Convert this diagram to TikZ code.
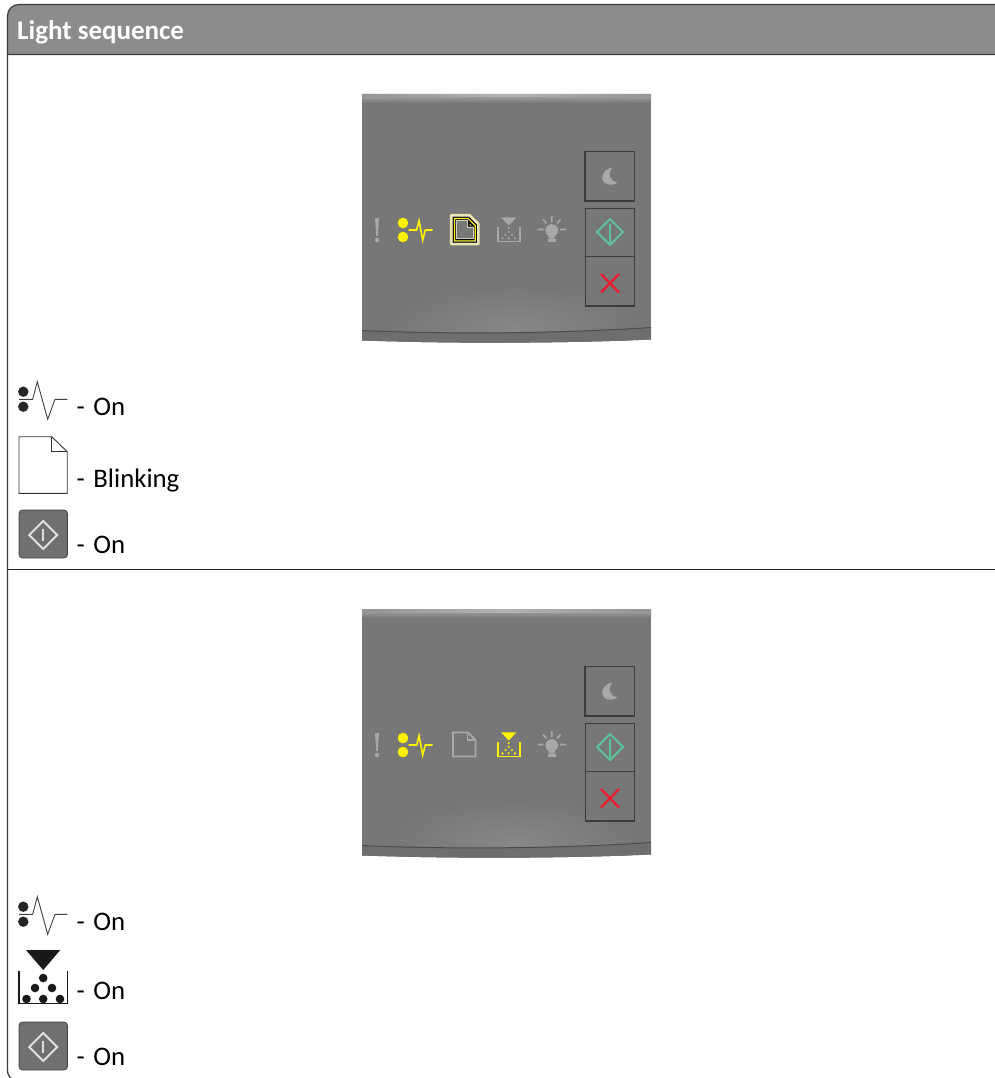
\documentclass[tikz,border=0pt]{standalone}
\usepackage{fontspec}
\setmainfont{Carlito}
\definecolor{framec}{HTML}{3A3A3A}
\definecolor{headc}{HTML}{8C8C8C}
\definecolor{body}{HTML}{777777}
\definecolor{ledoff}{HTML}{A8A8A8}
\definecolor{ledon}{HTML}{FFF200}
\definecolor{startc}{HTML}{5CC29B}
\definecolor{stopc}{HTML}{EE1C2E}
\definecolor{btnc}{HTML}{707070}
\definecolor{boxc}{HTML}{3C3C3C}
\definecolor{glowc}{HTML}{E9E6B4}
\tikzset{
  x=1pt,y=-1pt,
  legendtext/.style={anchor=base west,inner sep=0pt,font=\fontsize{26.8}{27}\selectfont,text=black},
  panelbox/.style={draw=boxc,line width=1.3},
  legendbtn/.style={fill=btnc,draw=black!75,line width=.7,rounded corners=3.5},
}
\newcommand{\ledbang}[1]{\fill[#1] (375,218) -- (379,218) -- (377.8,236) -- (376.2,236) -- cycle;
  \fill[#1] (377,240) circle (2.2);}
\newcommand{\ledpulse}[1]{\fill[#1] (403,223) circle (5.3); \fill[#1] (403,237) circle (5.3);
  \draw[#1,line width=1.6,line join=miter] (408.7,230) -- (416.7,230) -- (419,220.7) -- (422.7,240) -- (425.3,230) -- (432.7,230);}
\newcommand{\ledpaper}[1]{\draw[#1,line width=1.9,line join=round] (453,217.5) -- (468,217.5) -- (475.5,225) -- (475.5,241.5) -- (453,241.5) -- cycle;
  \draw[#1,line width=1.2] (467.5,218) -- (467.5,225) -- (475.5,225);}
\newcommand{\ledtoner}[1]{\fill[#1] (501,217.3) -- (516.5,217.3) -- (508.7,225.5) -- cycle;
  \draw[#1,line width=1.7] (498.3,226.5) -- (498.3,241.5) -- (519.7,241.5) -- (519.7,226.5);
  \foreach \dx/\dy in {508.7/228,508.7/232,505.5/235,512/235,502.5/238.3,508.7/238.3,515/238.3}{\fill[#1] (\dx,\dy) circle (1.2);}}
\newcommand{\ledbulb}[1]{\fill[#1] (551.7,230.5) circle (6.3);
  \fill[#1] (548,232) -- (555.4,232) -- (554.6,238.5) -- (548.8,238.5) -- cycle;
  \fill[#1] (547.8,239) rectangle (555.6,242.3);
  \draw[#1,line width=1.6] (551.7,216) -- (551.7,222) (543,219.5) -- (546.5,223.5) (560.5,219.5) -- (557,223.5) (537.5,229.5) -- (543.5,229.5) (560,229.5) -- (566,229.5);}
\newcommand{\ledpanel}{%
  \begin{scope}
    \clip (362,94) -- (651,94) -- (651,339.5) .. controls (560,343.5) and (450,343.5) .. (362,340.5) -- cycle;
    \fill[body] (362,94) rectangle (651,345);
    \shade[inner color=black!47,outer color=body] (515,328) ellipse [x radius=120,y radius=42];
    \shade[left color=black!42,right color=black!42,middle color=black!30] (362,94) rectangle (651,98);
    \shade[top color=black!42,bottom color=body] (362,98) rectangle (651,103);
    \fill[black!57] (362,330.5) .. controls (450,334.5) and (560,333.5) .. (651,327.5) -- (651,345) -- (362,345) -- cycle;
    \draw[black!70,line width=1] (362,330.5) .. controls (450,334.5) and (560,333.5) .. (651,327.5);
  \end{scope}
  \draw[panelbox] (585,151.5) rectangle (634.5,201);
  \draw[panelbox] (585.5,208.5) rectangle (634.5,256.5);
  \draw[panelbox] (585.5,256.5) rectangle (634.5,306);
  \fill[ledoff] (612.5,167.5) .. controls (600,169) and (598,186) .. (612,184.5) .. controls (614.5,184.3) and (616.5,183.5) .. (617.5,182) .. controls (610,182) and (607,174) .. (612.5,167.5) -- cycle;
  \draw[startc,line width=2.1] (610,219) -- (623,232) -- (610,245) -- (597,232) -- cycle;
  \draw[startc,line width=1.9] (610,224) -- (610,244.5);
  \draw[stopc,line width=2.3] (601,274) -- (619,292.5) (619,274) -- (601,292.5);
  \ledbang{ledoff}\ledpulse{ledon}\ledbulb{ledoff}}
\newcommand{\legendstart}[1]{\begin{scope}[yshift=-#1]
  \draw[legendbtn] (19,0) rectangle (67.5,48);
  \draw[black!12,line width=2] (43.3,11) -- (57.3,25) -- (43.3,39) -- (29.3,25) -- cycle;
  \draw[black!12,line width=2] (43.3,19) -- (43.3,31);
\end{scope}}
\newcommand{\legendpulse}[1]{\begin{scope}[yshift=-#1]
  \fill[black!85] (23.3,391.7) circle (5.2); \fill[black!85] (23.3,406.7) circle (5.2);
  \draw[black!75,line width=.9] (19,399.3) -- (32.7,399.3) -- (37.3,381.7) -- (47.7,419.3) -- (55,399.3) -- (67.3,399.3);
\end{scope}}
\begin{document}
\begin{tikzpicture}
\useasboundingbox (0,0) rectangle (995,1078);
\clip (0,0) rectangle (995,1078);
\fill[white] (0,0) rectangle (995,1078);
% frame
\draw[framec,fill=headc,line width=1.2] (1000,54.5) -- (7.5,54.5) -- (7.5,16) .. controls (7.5,9) and (13,4.5) .. (19,4.5) -- (1000,4.5);
\draw[framec,line width=1.2] (7.5,54) -- (7.5,1070) .. controls (7.5,1074) and (9,1077) .. (12,1079);
\draw[black!85,line width=1] (7.5,569) -- (1000,569);
\node[anchor=base west,inner sep=0pt,text=white,font=\fontsize{27}{27}\selectfont\bfseries] (title) at (17,40) {Light sequence};
% first panel
\ledpanel
\begin{scope}
  \draw[glowc,line width=2.8,line join=round] (451.3,215.3) -- (469.5,215.3) -- (478.3,224) -- (478.3,244) -- (451.3,244) -- cycle;
  \draw[black,line width=1,line join=miter] (453.3,217.3) -- (468.7,217.3) -- (476.3,225) -- (476.3,242) -- (453.3,242) -- cycle;
  \draw[ledon,line width=1.1,line join=miter] (454.5,218.5) -- (468.2,218.5) -- (475.2,225.5) -- (475.2,240.8) -- (454.5,240.8) -- cycle;
  \draw[black,line width=.8] (455.8,219.8) -- (467.5,219.8) -- (474,226.3) -- (474,239.6) -- (455.8,239.6) -- cycle;
  \draw[glowc!70!black!50!white,line width=.8] (456.8,220.8) -- (467,220.8) -- (467,227) -- (473,227) -- (473,238.6) -- (456.8,238.6) -- cycle;
  \fill[black] (468,221) -- (473.5,226.5) -- (468,226.5) -- cycle;
  \fill[ledon] (469.5,223.5) -- (471.5,225.7) -- (469.5,225.7) -- cycle;
\end{scope}
\ledtoner{ledoff}
% second panel
\begin{scope}[yshift=-515]
  \ledpanel
  \ledpaper{ledoff}
  \ledtoner{ledon}
\end{scope}
% first legend
\legendpulse{0}
\draw[black!80,line width=.9,line join=miter] (19,436.7) -- (51.7,436.7) -- (67.2,451.7) -- (67.2,493.3) -- (19,493.3) -- cycle;
\draw[black!80,line width=.9] (51.7,436.7) -- (51.7,451.7) -- (67.2,451.7);
\legendstart{510}
\node[legendtext] (t1) at (76.5,415.2) {-\hspace{8.5pt}On};
\node[legendtext] (t2) at (76.5,487.6) {-\hspace{8.5pt}Blinking};
\node[legendtext] (t3) at (76.5,553.9) {-\hspace{8.5pt}On};
% second legend
\legendpulse{515}
\fill[black!90] (26,950) -- (60.3,950) -- (43.2,970) -- cycle;
\foreach \dx/\dy in {43.2/978,35/988,52/988,26.5/999,43.2/999,60/999}{\fill[black!90] (\dx,\dy) circle (4.3);}
\draw[black!90,line width=1.8] (19,971) -- (19,1003.5) -- (67.5,1003.5) -- (67.5,971);
\legendstart{1022}
\node[legendtext] (t4) at (76.5,930.2) {-\hspace{8.5pt}On};
\node[legendtext] (t5) at (76.5,999.9) {-\hspace{8.5pt}On};
\node[legendtext] (t6) at (76.5,1065.9) {-\hspace{8.5pt}On};
\end{tikzpicture}
\end{document}
